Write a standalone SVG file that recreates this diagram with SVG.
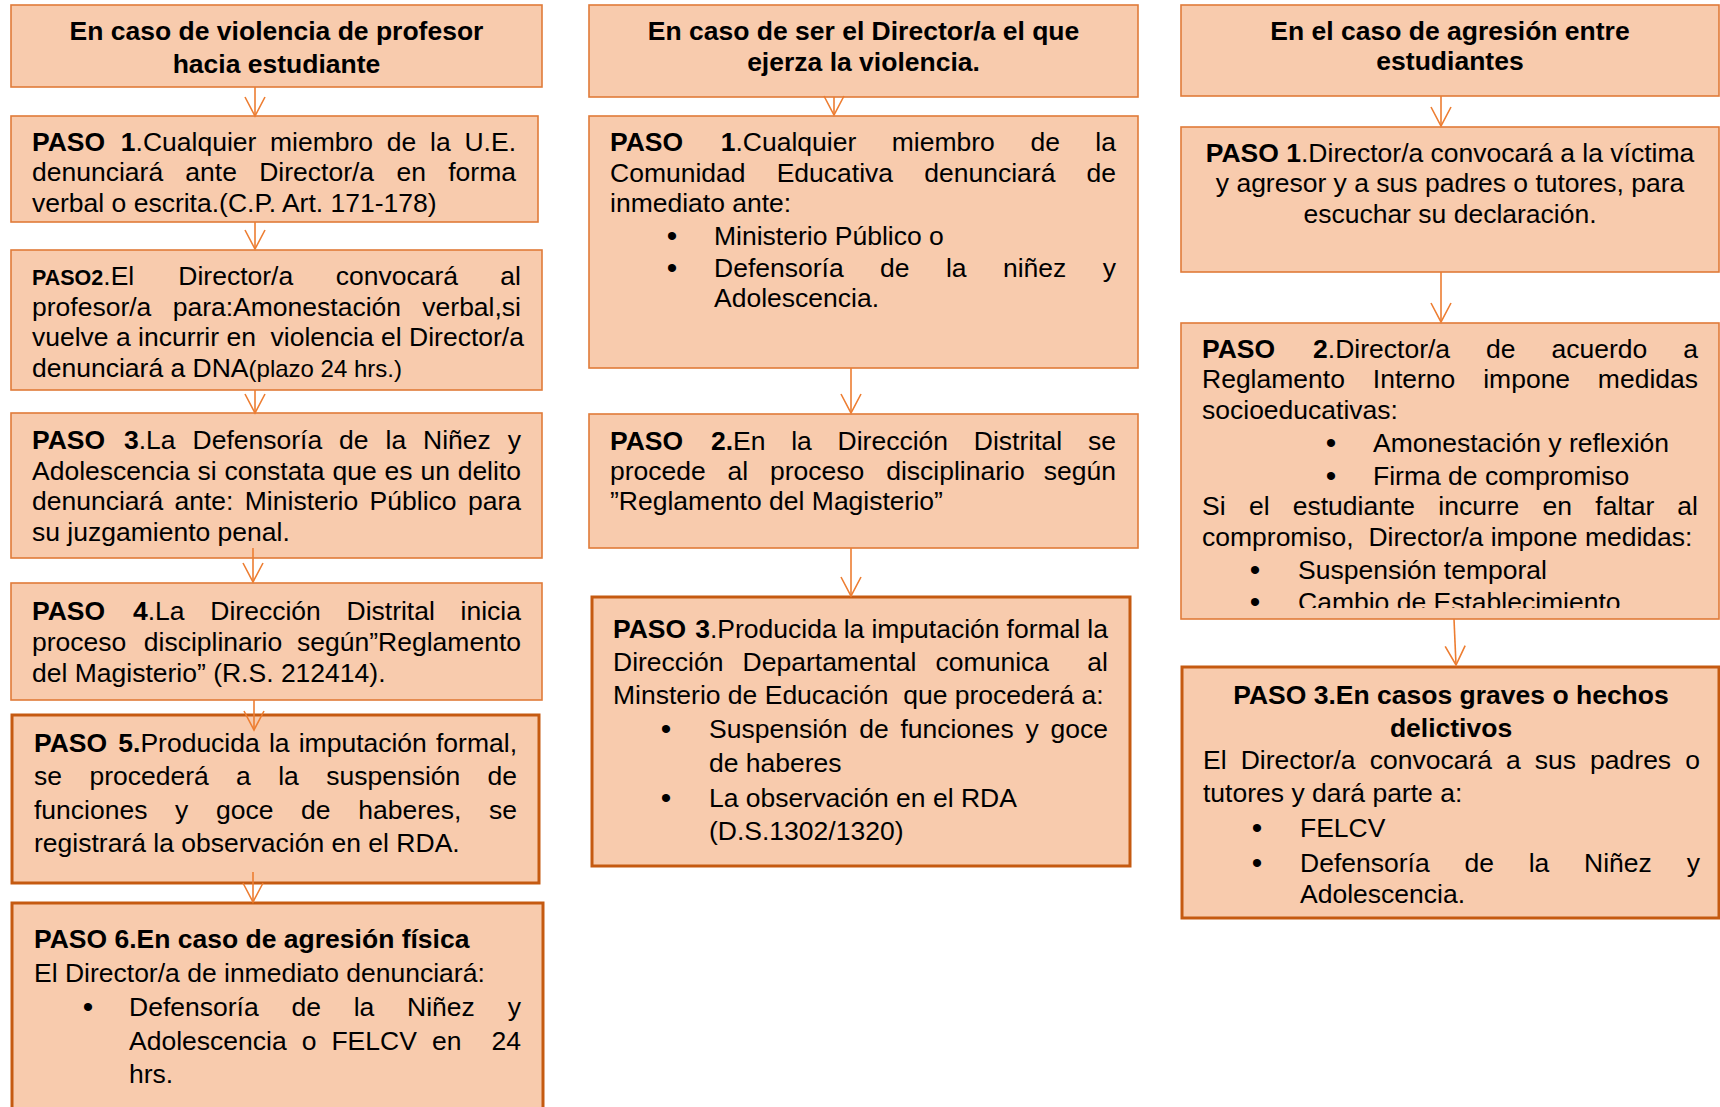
<svg xmlns="http://www.w3.org/2000/svg" width="1720" height="1107" viewBox="0 0 1720 1107">
<style>
.box{fill:#F8CBAD;stroke:#E07B39;stroke-width:1.6}
.thick{stroke:#C55A11;stroke-width:3}
text{font-family:"Liberation Sans",Arial,sans-serif;font-size:26.5px;fill:#000}
.b{font-weight:bold}
.h{font-weight:bold;text-anchor:middle}
.c{text-anchor:middle}
.bu{text-anchor:middle;font-size:30px}
.r{text-anchor:end}
.arrow{stroke:#ED7D31;stroke-width:1.6;fill:none}
</style>
<defs>
<marker id="ah" viewBox="-21 -12 23 24" refX="0" refY="0" markerWidth="23" markerHeight="24" markerUnits="userSpaceOnUse" orient="auto">
<path d="M-19,-10 L0,0 L-19,10" fill="none" stroke="#ED7D31" stroke-width="1.6"/>
</marker>
<clipPath id="clip32"><rect x="1181" y="323" width="538" height="285"/></clipPath>
</defs>
<rect width="1720" height="1107" fill="#FFFFFF"/>

<!-- Column 1 -->
<g id="c1-title">
<rect class="box" x="11" y="5" width="531" height="82"/>
<text class="h" x="276.5" y="40">En caso de violencia de profesor</text>
<text class="h" x="276.5" y="73">hacia estudiante</text>
</g>

<g id="c1-paso1">
<rect class="box" x="11" y="116" width="527" height="106"/>
<text y="150.5"><tspan x="32" class="b">PASO</tspan><tspan x="120.8"><tspan class="b">1</tspan>.Cualquier</tspan><tspan x="270">miembro</tspan><tspan x="386.8">de</tspan><tspan x="430">la</tspan></text>
<text class="r" x="516" y="150.5">U.E.</text>
<text y="181"><tspan x="32">denunciará</tspan><tspan x="185.3">ante</tspan><tspan x="259.2">Director/a</tspan><tspan x="396.4">en</tspan></text>
<text class="r" x="516" y="181">forma</text>
<text x="32" y="211.5">verbal o escrita.(C.P. Art. 171-178)</text>
</g>

<g id="c1-paso2">
<rect class="box" x="11" y="250" width="531" height="140"/>
<text y="285"><tspan x="32" class="b" style="font-size:21.5px">PASO2</tspan><tspan>.El</tspan><tspan x="178.3">Director/a</tspan><tspan x="335.7">convocará</tspan></text>
<text class="r" x="521" y="285">al</text>
<text y="315.5"><tspan x="32">profesor/a</tspan><tspan x="172.7">para:Amonestación</tspan></text>
<text class="r" x="521" y="315.5">verbal,si</text>
<text x="32" y="346" xml:space="preserve">vuelve a incurrir en  violencia el Director/a</text>
<text x="32" y="376.5">denunciará a DNA<tspan style="font-size:24px">(plazo 24 hrs.)</tspan></text>
</g>

<g id="c1-paso3">
<rect class="box" x="11" y="413" width="531" height="145"/>
<text y="449"><tspan x="32" class="b">PASO</tspan><tspan x="124"><tspan class="b">3</tspan>.La</tspan><tspan x="192.6">Defensoría</tspan><tspan x="339.1">de</tspan><tspan x="385.5">la</tspan><tspan x="423.1">Niñez</tspan></text>
<text class="r" x="521" y="449">y</text>
<text y="479.5"><tspan x="32">Adolescencia</tspan><tspan x="197.5">si</tspan><tspan x="224.4">constata</tspan><tspan x="332.5">que</tspan><tspan x="384.5">es</tspan><tspan x="420.4">un</tspan></text>
<text class="r" x="521" y="479.5">delito</text>
<text y="510"><tspan x="32">denunciará</tspan><tspan x="174.5">ante:</tspan><tspan x="244.8">Ministerio</tspan><tspan x="369.6">Público</tspan></text>
<text class="r" x="521" y="510">para</text>
<text x="32" y="540.5">su juzgamiento penal.</text>
</g>

<g id="c1-paso4">
<rect class="box" x="11" y="583" width="531" height="117"/>
<text y="620"><tspan x="32" class="b">PASO</tspan><tspan x="132.9"><tspan class="b">4</tspan>.La</tspan><tspan x="210.3">Dirección</tspan><tspan x="346.5">Distrital</tspan></text>
<text class="r" x="521" y="620">inicia</text>
<text y="651"><tspan x="32">proceso</tspan><tspan x="143.8">disciplinario</tspan></text>
<text class="r" x="521" y="651">según”Reglamento</text>
<text x="32" y="682">del Magisterio” (R.S. 212414).</text>
</g>

<g id="c1-paso5">
<rect class="box thick" x="12" y="715" width="527" height="168"/>
<text y="752"><tspan x="34" class="b">PASO</tspan><tspan x="118.3"><tspan class="b">5.</tspan>Producida</tspan><tspan x="268.9">la</tspan><tspan x="298.7">imputación</tspan></text>
<text class="r" x="517" y="752">formal,</text>
<text y="785"><tspan x="34">se</tspan><tspan x="89.4">procederá</tspan><tspan x="236.1">a</tspan><tspan x="278.2">la</tspan><tspan x="326.2">suspensión</tspan></text>
<text class="r" x="517" y="785">de</text>
<text y="818.5"><tspan x="34">funciones</tspan><tspan x="175.1">y</tspan><tspan x="216">goce</tspan><tspan x="301.1">de</tspan><tspan x="358.3">haberes,</tspan></text>
<text class="r" x="517" y="818.5">se</text>
<text x="34" y="852">registrará la observación en el RDA.</text>
</g>

<g id="c1-paso6">
<rect class="box thick" x="12" y="903" width="531" height="230"/>
<text class="b" x="34" y="948">PASO 6.En caso de agresión física</text>
<text x="34" y="982">El Director/a de inmediato denunciará:</text>
<text class="bu" x="88" y="1017">•</text>
<text y="1016"><tspan x="129">Defensoría</tspan><tspan x="291.4">de</tspan><tspan x="353.7">la</tspan><tspan x="407.1">Niñez</tspan></text>
<text class="r" x="521" y="1016">y</text>
<text y="1049.5"><tspan x="129">Adolescencia</tspan><tspan x="301.7">o</tspan><tspan x="331.4">FELCV</tspan><tspan x="431.9">en</tspan></text>
<text class="r" x="521" y="1049.5">24</text>
<text x="129" y="1082.5">hrs.</text>
</g>

<!-- Column 2 -->
<g id="c2-title">
<rect class="box" x="589" y="5" width="549" height="92"/>
<text class="h" x="863.5" y="40">En caso de ser el Director/a el que</text>
<text class="h" x="863.5" y="71">ejerza la violencia.</text>
</g>

<g id="c2-paso1">
<rect class="box" x="589" y="116" width="549" height="252"/>
<text y="151"><tspan x="610" class="b">PASO</tspan><tspan x="720.7"><tspan class="b">1</tspan>.Cualquier</tspan><tspan x="891.7">miembro</tspan><tspan x="1030.4">de</tspan></text>
<text class="r" x="1116" y="151">la</text>
<text y="181.5"><tspan x="610">Comunidad</tspan><tspan x="776.7">Educativa</tspan><tspan x="924.3">denunciará</tspan></text>
<text class="r" x="1116" y="181.5">de</text>
<text x="610" y="212">inmediato ante:</text>
<text class="bu" x="672" y="245.5">•</text>
<text x="714" y="244.5">Ministerio Público o</text>
<text class="bu" x="672" y="277.5">•</text>
<text y="276.5"><tspan x="714">Defensoría</tspan><tspan x="880">de</tspan><tspan x="945.9">la</tspan><tspan x="1002.9">niñez</tspan></text>
<text class="r" x="1116" y="276.5">y</text>
<text x="714" y="307">Adolescencia.</text>
</g>

<g id="c2-paso2">
<rect class="box" x="589" y="414" width="549" height="134"/>
<text y="450"><tspan x="610" class="b">PASO</tspan><tspan x="710.9"><tspan class="b">2.</tspan>En</tspan><tspan x="791.2">la</tspan><tspan x="837.6">Dirección</tspan><tspan x="973.8">Distrital</tspan></text>
<text class="r" x="1116" y="450">se</text>
<text y="480"><tspan x="610">procede</tspan><tspan x="727.6">al</tspan><tspan x="770">proceso</tspan><tspan x="886.2">disciplinario</tspan></text>
<text class="r" x="1116" y="480">según</text>
<text x="610" y="510">”Reglamento del Magisterio”</text>
</g>

<g id="c2-paso3">
<rect class="box thick" x="592" y="597" width="538" height="269"/>
<text y="638"><tspan x="613" class="b">PASO</tspan><tspan x="695.2"><tspan class="b">3</tspan>.Producida</tspan><tspan x="843.7">la</tspan><tspan x="871.4">imputación</tspan><tspan x="1006.6">formal</tspan></text>
<text class="r" x="1108" y="638">la</text>
<text y="671"><tspan x="613">Dirección</tspan><tspan x="742.6">Departamental</tspan><tspan x="935.6">comunica</tspan></text>
<text class="r" x="1108" y="671">al</text>
<text x="613" y="704" xml:space="preserve">Minsterio de Educación  que procederá a:</text>
<text class="bu" x="666" y="739">•</text>
<text y="738"><tspan x="709">Suspensión</tspan><tspan x="859.2">de</tspan><tspan x="900.4">funciones</tspan><tspan x="1025.5">y</tspan></text>
<text class="r" x="1108" y="738">goce</text>
<text x="709" y="772">de haberes</text>
<text class="bu" x="666" y="807.5">•</text>
<text x="709" y="806.5">La observación en el RDA</text>
<text x="709" y="840">(D.S.1302/1320)</text>
</g>

<!-- Column 3 -->
<g id="c3-title">
<rect class="box" x="1181" y="5" width="538" height="91"/>
<text class="h" x="1450" y="40">En el caso de agresión entre</text>
<text class="h" x="1450" y="70">estudiantes</text>
</g>

<g id="c3-paso1">
<rect class="box" x="1181" y="127" width="538" height="145"/>
<text class="c" x="1450" y="162"><tspan class="b">PASO 1</tspan>.Director/a convocará a la víctima</text>
<text class="c" x="1450" y="192">y agresor y a sus padres o tutores, para</text>
<text class="c" x="1450" y="223">escuchar su declaración.</text>
</g>

<g id="c3-paso2">
<rect class="box" x="1181" y="323" width="538" height="296"/>
<g clip-path="url(#clip32)">
<text y="358"><tspan x="1202" class="b">PASO</tspan><tspan x="1313.1"><tspan class="b">2</tspan>.Director/a</tspan><tspan x="1486">de</tspan><tspan x="1551.5">acuerdo</tspan></text>
<text class="r" x="1698" y="358">a</text>
<text y="388"><tspan x="1202">Reglamento</tspan><tspan x="1372.8">Interno</tspan><tspan x="1483.2">impone</tspan></text>
<text class="r" x="1698" y="388">medidas</text>
<text x="1202" y="419">socioeducativas:</text>
<text class="bu" x="1331" y="453">•</text>
<text x="1373" y="452">Amonestación y reflexión</text>
<text class="bu" x="1331" y="486">•</text>
<text x="1373" y="485">Firma de compromiso</text>
<text y="515"><tspan x="1202">Si</tspan><tspan x="1248.9">el</tspan><tspan x="1292.7">estudiante</tspan><tspan x="1438.3">incurre</tspan><tspan x="1542.5">en</tspan><tspan x="1595.3">faltar</tspan></text>
<text class="r" x="1698" y="515">al</text>
<text x="1202" y="546" xml:space="preserve">compromiso,  Director/a impone medidas:</text>
<text class="bu" x="1255" y="579.5">•</text>
<text x="1298" y="578.5">Suspensión temporal</text>
<text class="bu" x="1255" y="612">•</text>
<text x="1298" y="611">Cambio de Establecimiento</text>
</g>
</g>

<g id="c3-paso3">
<rect class="box thick" x="1182" y="667" width="537" height="251"/>
<text class="h" x="1451" y="704">PASO 3.En casos graves o hechos</text>
<text class="h" x="1451" y="737">delictivos</text>
<text y="769"><tspan x="1203">El</tspan><tspan x="1240.7">Director/a</tspan><tspan x="1369.7">convocará</tspan><tspan x="1506">a</tspan><tspan x="1534.8">sus</tspan><tspan x="1590.1">padres</tspan></text>
<text class="r" x="1700" y="769">o</text>
<text x="1203" y="802">tutores y dará parte a:</text>
<text class="bu" x="1257" y="838">•</text>
<text x="1300" y="837">FELCV</text>
<text class="bu" x="1257" y="872.5">•</text>
<text y="871.5"><tspan x="1300">Defensoría</tspan><tspan x="1464.4">de</tspan><tspan x="1528.7">la</tspan><tspan x="1584.1">Niñez</tspan></text>
<text class="r" x="1700" y="871.5">y</text>
<text x="1300" y="903">Adolescencia.</text>
</g>

<g id="connectors">
<line class="arrow" x1="255" y1="87" x2="255" y2="116" marker-end="url(#ah)"/>
<line class="arrow" x1="255" y1="222" x2="255" y2="249" marker-end="url(#ah)"/>
<line class="arrow" x1="255" y1="390" x2="255" y2="413" marker-end="url(#ah)"/>
<line class="arrow" x1="253" y1="548" x2="253" y2="582" marker-end="url(#ah)"/>
<line class="arrow" x1="254" y1="700" x2="254" y2="730" marker-end="url(#ah)"/>
<line class="arrow" x1="253" y1="872" x2="253" y2="902" marker-end="url(#ah)"/>
<line class="arrow" x1="834" y1="97" x2="834" y2="115" marker-end="url(#ah)"/>
<line class="arrow" x1="851" y1="368" x2="851" y2="413" marker-end="url(#ah)"/>
<line class="arrow" x1="851" y1="548" x2="851" y2="596" marker-end="url(#ah)"/>
<line class="arrow" x1="1441" y1="96" x2="1441" y2="126" marker-end="url(#ah)"/>
<line class="arrow" x1="1441" y1="272" x2="1441" y2="322" marker-end="url(#ah)"/>
<line class="arrow" x1="1454" y1="619" x2="1456" y2="665" marker-end="url(#ah)"/>
</g>
</svg>
